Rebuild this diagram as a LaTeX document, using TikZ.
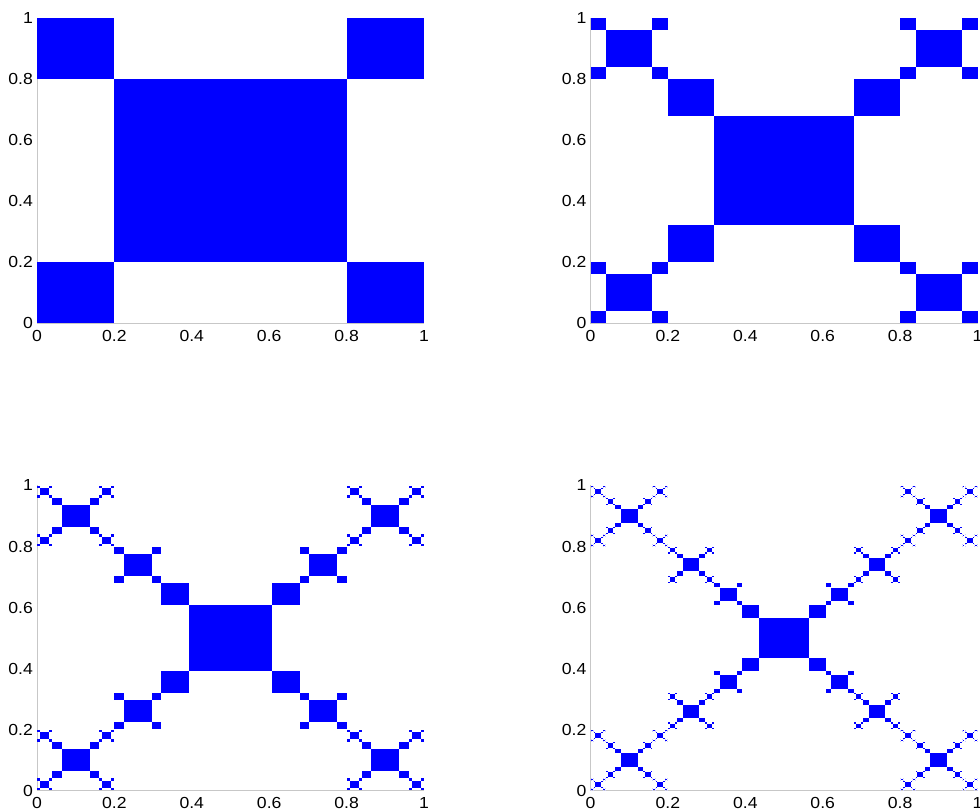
\documentclass[tikz,border=0pt]{standalone}
\usepackage{fontspec}
\setmainfont{Liberation Sans}
\newfontfamily\labfont[FakeStretch=1.1]{Liberation Sans}
\tikzset{
  sqfill/.style={fill={rgb,255:red,0;green,0;blue,255}},
  sqfaint/.style={fill={rgb,255:red,205;green,205;blue,255}},
  axisline/.style={draw=black!22,line width=0.9pt},
  ylab/.style={anchor=east,inner sep=0pt,xshift=-4pt,font=\labfont\fontsize{16}{17}\selectfont},
  xlab/.style={anchor=north,inner sep=0pt,yshift=-7pt,font=\labfont\fontsize{16}{17}\selectfont}
}
\def\fracsq#1#2#3#4{%
  \ifnum#4=0\relax
    \ifdim#3pt<0.002pt\relax
      \fill[sqfaint] (#1,#2) rectangle ++(#3,#3);%
    \else
      \fill[sqfill] (#1,#2) rectangle ++(#3,#3);%
    \fi
  \else
    \begingroup
    \pgfmathsetmacro\fa{0.2*#3}%
    \pgfmathsetmacro\fb{0.6*#3}%
    \pgfmathsetmacro\fxr{#1+0.8*#3}%
    \pgfmathsetmacro\fyt{#2+0.8*#3}%
    \pgfmathsetmacro\fxc{#1+0.2*#3}%
    \pgfmathsetmacro\fyc{#2+0.2*#3}%
    \pgfmathtruncatemacro\flv{#4-1}%
    \edef\fnext{%
      \noexpand\fracsq{#1}{#2}{\fa}{\flv}%
      \noexpand\fracsq{\fxr}{#2}{\fa}{\flv}%
      \noexpand\fracsq{#1}{\fyt}{\fa}{\flv}%
      \noexpand\fracsq{\fxr}{\fyt}{\fa}{\flv}%
      \noexpand\fracsq{\fxc}{\fyc}{\fb}{\flv}}%
    \fnext
    \endgroup
  \fi}
\newcommand\fpanel[4]{%
  \begin{scope}[shift={(#1,#2)},x=387pt,y=305pt]
    \draw[axisline] (0,1) -- (0,0) -- (1,0);
    \fracsq{0}{0}{1}{#3}
    \foreach \i/\v in {0/0,1/0.2,2/0.4,3/0.6,4/0.8,5/1}{
      \node[ylab] (p#4y\i) at (0,\v) {\v};
      \node[xlab] (p#4x\i) at (\v,0) {\v};
    }
  \end{scope}}
\begin{document}
\begin{tikzpicture}[x=1pt,y=1pt]
  \useasboundingbox (0,0) rectangle (980,811);
  \fpanel{37}{488}{1}{a}
  \fpanel{590.5}{488}{2}{b}
  \fpanel{37}{20.5}{3}{c}
  \fpanel{590.5}{20.5}{4}{d}
\end{tikzpicture}
\end{document}
